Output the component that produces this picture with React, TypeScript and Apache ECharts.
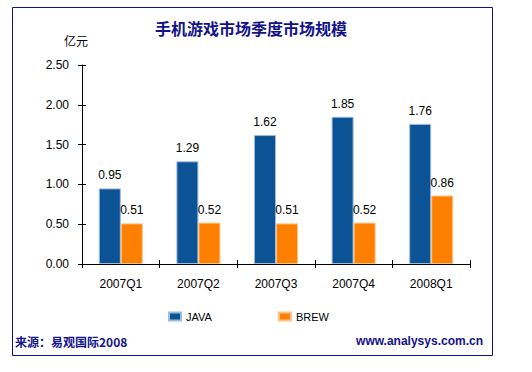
import React, { useEffect, useRef } from "react";
import * as echarts from "echarts";

const categories = ["2007Q1", "2007Q2", "2007Q3", "2007Q4", "2008Q1"];
const javaValues = [0.95, 1.29, 1.62, 1.85, 1.76];
const brewValues = [0.51, 0.52, 0.51, 0.52, 0.86];
const seriesNames = ["JAVA", "BREW"];
const titleText = "手机游戏市场季度市场规模";
const unitText = "亿元";
const sourceText = "来源：易观国际2008";
const siteText = "www.analysys.com.cn";

const LATIN = "'Liberation Sans', Arial, sans-serif";
const CJK = "'Noto Sans CJK SC', 'Liberation Sans', sans-serif";
const NAVY = "#12128A";

export default function App() {
  const ref = useRef<HTMLDivElement>(null);
  useEffect(() => {
    document.body.style.margin = "0";
    const chart = echarts.init(ref.current!, undefined, { renderer: "svg" });
    const yBase = {
      type: "value" as const,
      min: 0,
      max: 2.5,
      interval: 0.5,
      splitLine: { show: false },
    };
    chart.setOption({
      animation: false,
      backgroundColor: "#ffffff",
      textStyle: { fontFamily: LATIN },
      grid: { left: 82, right: 62, top: 65, bottom: 108, containLabel: false },
      legend: {
        data: seriesNames,
        left: 163,
        top: 306,
        itemWidth: 12,
        itemHeight: 8,
        itemGap: 66,
        icon: "rect",
        textStyle: { fontSize: 11, color: "#000", fontFamily: LATIN },
      },
      xAxis: [
        {
          type: "category",
          data: categories,
          axisLine: { lineStyle: { color: "#000", width: 1 } },
          axisTick: { show: true, length: 4, lineStyle: { color: "#000" } },
          axisLabel: { color: "#000", fontSize: 12, margin: 14, fontFamily: LATIN },
        },
        {
          type: "category",
          data: categories,
          position: "bottom",
          axisLine: { show: false },
          axisTick: { show: true, inside: true, length: 4, lineStyle: { color: "#000" } },
          axisLabel: { show: false },
        },
      ],
      yAxis: [
        {
          ...yBase,
          axisLine: { show: true, lineStyle: { color: "#000", width: 1 } },
          axisTick: { show: true, length: 4, lineStyle: { color: "#000" } },
          axisLabel: {
            color: "#000",
            fontSize: 12,
            margin: 13,
            fontFamily: LATIN,
            formatter: (v: number) => v.toFixed(2),
          },
        },
        {
          ...yBase,
          position: "left",
          axisLine: { show: false },
          axisTick: { show: true, inside: true, length: 4, lineStyle: { color: "#000" } },
          axisLabel: { show: false },
        },
      ],
      series: [
        {
          name: seriesNames[0],
          type: "bar",
          data: javaValues,
          barWidth: 22,
          barGap: "0%",
          itemStyle: { color: "#0B5394", borderColor: "#9DBCDC", borderWidth: 1 },
          label: {
            show: true,
            position: "top",
            distance: 7,
            color: "#000",
            fontSize: 12,
            fontFamily: LATIN,
            formatter: (p: any) => p.value.toFixed(2),
          },
        },
        {
          name: seriesNames[1],
          type: "bar",
          data: brewValues,
          barWidth: 22,
          itemStyle: { color: "#FF8000", borderColor: "#FFC285", borderWidth: 1 },
          label: {
            show: true,
            position: "top",
            distance: 7,
            color: "#000",
            fontSize: 12,
            fontFamily: LATIN,
            formatter: (p: any) => p.value.toFixed(2),
          },
        },
      ],
      graphic: [
        {
          type: "rect",
          shape: { x: 12.5, y: 7.5, width: 480, height: 348 },
          style: { fill: "none", stroke: NAVY, lineWidth: 1 },
          silent: true,
        },
        {
          type: "text",
          x: 251,
          y: 28,
          style: {
            text: titleText,
            fill: NAVY,
            font: `bold 16px ${CJK}`,
            textAlign: "center",
            textVerticalAlign: "middle",
          },
        },
        {
          type: "text",
          x: 76,
          y: 40,
          style: {
            text: unitText,
            fill: "#000",
            font: `12px ${CJK}`,
            textAlign: "center",
            textVerticalAlign: "middle",
          },
        },
        {
          type: "text",
          x: 15,
          y: 341,
          style: {
            text: sourceText,
            fill: NAVY,
            font: `bold 12px ${CJK}`,
            textAlign: "left",
            textVerticalAlign: "middle",
          },
        },
        {
          type: "text",
          x: 483,
          y: 341,
          style: {
            text: siteText,
            fill: NAVY,
            font: `bold 12px ${LATIN}`,
            textAlign: "right",
            textVerticalAlign: "middle",
          },
        },
      ],
    });
    return () => chart.dispose();
  }, []);
  return <div ref={ref} style={{ width: 532, height: 372 }} />;
}
